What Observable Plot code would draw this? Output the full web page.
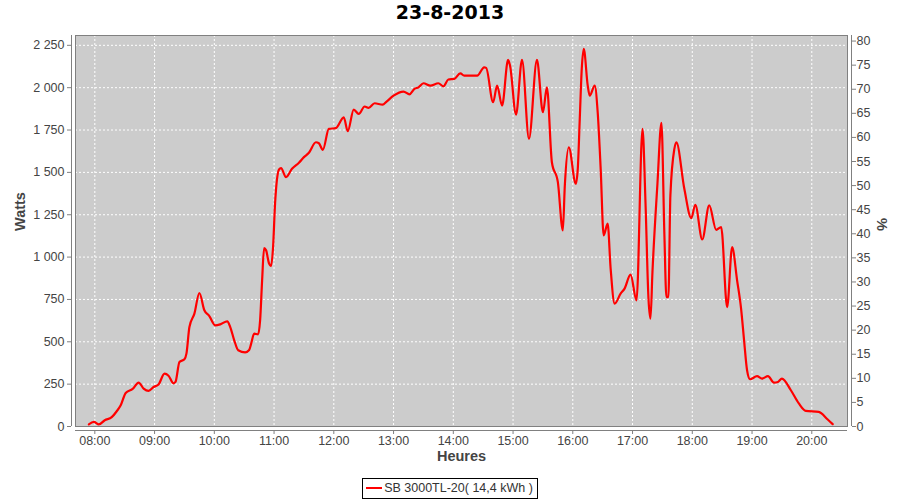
<!DOCTYPE html>
<html>
<head>
<meta charset="utf-8">
<script src="https://cdn.jsdelivr.net/npm/d3@7"></script>
<script src="https://cdn.jsdelivr.net/npm/@observablehq/plot@0.6"></script>
<style>
  html, body { margin: 0; padding: 0; background: #fff; }
  body { position: relative; width: 900px; height: 500px; overflow: hidden; }
  #title { height: 27px; padding-top: 1px; line-height: 28px; text-align: center;
           font: bold 19px "DejaVu Sans", sans-serif; color: #000; }
  #chart { position: absolute; left: 0; top: 28px; }
  #legend { position: absolute; left: 0; top: 477px; width: 900px; text-align: center; }
  #legend .box { display: inline-flex; align-items: center; border: 1px solid #000; height: 19px;
                 padding: 0 4px 0 3px; font: 12.5px "Liberation Sans", sans-serif; color: #333; white-space: pre; }
</style>
</head>
<body>
<div id="title"></div>
<div id="chart"></div>
<div id="legend"></div>
<script>
const chartTitle = "23-8-2013";
const seriesName = "SB 3000TL-20( 14,4 kWh )";
const yLabel = "Watts";
const y2Label = "%";
const xLabel = "Heures";

const times = [
  "07:54","07:59","08:04","08:10","08:17","08:22","08:26","08:31","08:38","08:44",
  "08:49","08:54","08:59","09:04","09:10","09:14","09:19","09:21","09:25","09:30",
  "09:32","09:35","09:40","09:45","09:50","09:55","10:01","10:06","10:13","10:16",
  "10:20","10:24","10:31","10:35","10:37","10:40","10:44","10:46","10:48","10:50",
  "10:52","10:55","10:57","10:59","11:01","11:05","11:07","11:12","11:18","11:25",
  "11:30","11:35","11:42","11:45","11:49","11:55","12:02","12:10","12:14","12:20",
  "12:25","12:31","12:35","12:41","12:49","12:53","13:00","13:10","13:16","13:21",
  "13:25","13:30","13:37","13:45","13:50","13:55","14:01","14:07","14:11","14:24",
  "14:31","14:33","14:40","14:44","14:49","14:55","14:57","15:03","15:09","15:16",
  "15:24","15:30","15:34","15:39","15:45","15:50","15:52","15:56","16:03","16:05",
  "16:07","16:09","16:11","16:15","16:17","16:22","16:25","16:28","16:31","16:35",
  "16:38","16:42","16:48","16:52","16:58","17:04","17:10","17:13","17:16","17:18",
  "17:20","17:25","17:29","17:32","17:34","17:36","17:38","17:42","17:44","17:52",
  "17:59","18:03","18:10","18:17","18:24","18:29","18:35","18:40","18:45","18:49",
  "18:52","18:55","18:58","19:05","19:10","19:16","19:22","19:26","19:30","19:39",
  "19:47","19:54","20:07","20:16","20:21"
];
const watts = [
  13,27,12,37,55,90,125,198,222,259,
  224,210,233,248,312,300,255,263,381,397,
  430,587,666,788,686,652,597,603,621,587,
  509,450,438,452,489,548,544,627,862,1053,
  1040,961,947,1059,1315,1517,1525,1472,1521,1557,
  1590,1616,1678,1672,1633,1757,1761,1825,1743,1871,
  1845,1889,1881,1908,1900,1918,1953,1977,1961,1993,
  2002,2026,2012,2026,2008,2048,2052,2085,2071,2071,
  2120,2117,1914,2012,1894,2164,2130,1841,2164,1698,
  2164,1855,2002,1560,1442,1157,1423,1648,1433,1521,
  1816,2111,2229,2012,1953,2012,1855,1521,1128,1197,
  932,725,784,814,896,745,1757,1324,755,637,
  912,1433,1792,1128,764,764,1364,1639,1678,1403,
  1230,1309,1104,1305,1161,1177,705,1059,863,696,
  509,332,279,297,283,297,259,263,283,214,
  136,92,86,41,14
];

const xTicks = ["08:00","09:00","10:00","11:00","12:00","13:00","14:00","15:00","16:00","17:00","18:00","19:00","20:00"];
const wattTicks = [0,250,500,750,1000,1250,1500,1750,2000,2250];
const pctTicks = [0,5,10,15,20,25,30,35,40,45,50,55,60,65,70,75,80];
const xDomain = ["07:40:36","20:35:52"];
const yDomain = [0, 2308];
const wattsPerPct = 28.44;

const parse = s => { const p = s.split(":").map(Number); return new Date(2013, 7, 23, p[0], p[1], p[2] || 0); };
const data = times.map((t, i) => ({t: parse(t), w: watts[i]}));
const xTickDates = xTicks.map(parse);
const xDom = xDomain.map(parse);

const fmtW = d3.formatLocale({decimal: ",", thousands: " ", grouping: [3], currency: ["", ""]}).format(",");
const axisStroke = "#808080";
const textFill = "#444444";

document.getElementById("title").textContent = chartTitle;

const chart = Plot.plot({
  width: 900, height: 446,
  marginTop: 7, marginBottom: 48, marginLeft: 75, marginRight: 53,
  style: {fontFamily: "'Liberation Sans', sans-serif", fontSize: "12.5px", color: textFill, background: "transparent"},
  x: {type: "time", domain: xDom, axis: null},
  y: {domain: yDomain, axis: null},
  marks: [
    Plot.frame({fill: "#cccccc", stroke: null}),
    Plot.gridX(xTickDates, {stroke: "#ffffff", strokeOpacity: 1, strokeDasharray: "2,2", strokeWidth: 1}),
    Plot.gridY(wattTicks, {stroke: "#ffffff", strokeOpacity: 1, strokeDasharray: "2,2", strokeWidth: 1}),
    Plot.line(data, {x: "t", y: "w", stroke: "#ff0000", strokeWidth: 2.2, curve: "monotone-x"}),
    Plot.frame({stroke: axisStroke, strokeWidth: 1}),
    Plot.axisX(xTickDates, {anchor: "bottom", label: null, tickFormat: d3.timeFormat("%H:%M"), tickSize: 4, tickPadding: 2, dy: 4, stroke: axisStroke, fill: textFill}),
    Plot.ruleY([0], {dy: 4, stroke: axisStroke}),
    Plot.axisY(wattTicks, {anchor: "left", label: null, tickFormat: fmtW, tickSize: 4, tickPadding: 3, dx: -4, stroke: axisStroke, fill: textFill}),
    Plot.ruleX([xDom[0]], {dx: -4, stroke: axisStroke}),
    Plot.axisY(pctTicks.map(p => p * wattsPerPct), {anchor: "right", label: null, tickFormat: d => String(Math.round(d / wattsPerPct)), tickSize: 4, tickPadding: 1, dx: 4, stroke: axisStroke, fill: textFill}),
    Plot.ruleX([xDom[1]], {dx: 4, stroke: axisStroke}),
    Plot.text([yLabel], {text: d => d, frameAnchor: "left", dx: -55, rotate: -90, fontSize: 14.5, fontWeight: "bold", fill: textFill}),
    Plot.text([xLabel], {text: d => d, frameAnchor: "bottom", dy: 34, fontSize: 14.5, fontWeight: "bold", fill: textFill}),
    Plot.text([y2Label], {text: d => d, frameAnchor: "right", dx: 34, rotate: 90, fontSize: 14.5, fontWeight: "bold", fill: textFill})
  ]
});
document.getElementById("chart").appendChild(chart);

const legend = document.getElementById("legend");
const box = document.createElement("div");
box.className = "box";
box.innerHTML = '<svg width="16" height="6"><line x1="0" y1="3" x2="16" y2="3" stroke="#ff0000" stroke-width="2"/></svg>';
const span = document.createElement("span");
span.style.marginLeft = "2px";
span.textContent = seriesName;
box.appendChild(span);
legend.appendChild(box);
</script>
</body>
</html>
